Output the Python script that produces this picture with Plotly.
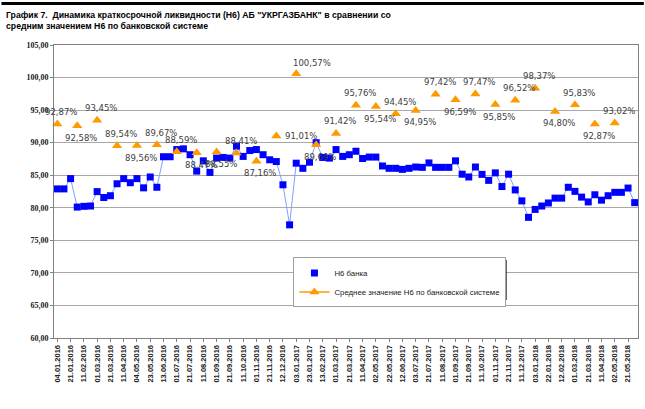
import plotly.graph_objects as go

dates = [
    "04.01.2016", "11.01.2016", "21.01.2016", "01.02.2016", "11.02.2016", "22.02.2016",
    "01.03.2016", "11.03.2016", "21.03.2016", "01.04.2016", "11.04.2016", "21.04.2016",
    "04.05.2016", "11.05.2016", "23.05.2016", "01.06.2016", "13.06.2016", "21.06.2016",
    "01.07.2016", "11.07.2016", "21.07.2016", "01.08.2016", "11.08.2016", "22.08.2016",
    "01.09.2016", "12.09.2016", "21.09.2016", "03.10.2016", "11.10.2016", "21.10.2016",
    "01.11.2016", "11.11.2016", "21.11.2016", "01.12.2016", "12.12.2016", "21.12.2016",
    "03.01.2017", "11.01.2017", "23.01.2017", "01.02.2017", "13.02.2017", "21.02.2017",
    "01.03.2017", "13.03.2017", "21.03.2017", "03.04.2017", "11.04.2017", "21.04.2017",
    "02.05.2017", "11.05.2017", "22.05.2017", "01.06.2017", "12.06.2017", "21.06.2017",
    "03.07.2017", "11.07.2017", "21.07.2017", "01.08.2017", "11.08.2017", "21.08.2017",
    "01.09.2017", "11.09.2017", "21.09.2017", "02.10.2017", "11.10.2017", "23.10.2017",
    "01.11.2017", "13.11.2017", "21.11.2017", "01.12.2017", "11.12.2017", "21.12.2017",
    "03.01.2018", "11.01.2018", "22.01.2018", "01.02.2018", "12.02.2018", "21.02.2018",
    "01.03.2018", "12.03.2018", "21.03.2018", "02.04.2018", "11.04.2018", "23.04.2018",
    "02.05.2018", "11.05.2018", "21.05.2018", "01.06.2018",
]

bank_n6 = [
    82.90, 82.90, 84.48, 80.11, 80.22, 80.27, 82.48, 81.58, 81.85, 83.69,
    84.48, 83.85, 84.48, 83.06, 84.73, 83.15, 87.84, 87.84, 88.94, 89.05,
    88.15, 85.63, 87.21, 85.43, 87.63, 87.73, 87.63, 89.46, 87.89, 88.79,
    88.94, 88.15, 87.37, 87.10, 83.53, 77.38, 86.85, 86.06, 87.00, 90.00,
    87.73, 87.63, 88.94, 87.89, 88.15, 88.68, 87.57, 87.79, 87.79, 86.42,
    86.06, 86.06, 85.90, 86.06, 86.26, 86.21, 86.89, 86.21, 86.21, 86.21,
    87.21, 85.16, 84.73, 86.26, 85.13, 84.21, 85.36, 83.26, 85.16, 82.74,
    81.06, 78.53, 79.75, 80.27, 80.74, 81.48, 81.48, 83.15, 82.52, 81.64,
    80.90, 82.00, 81.17, 81.85, 82.37, 82.37, 83.03, 80.79,
]

# monthly banking-system average, one value per month (first date of each month)
system_n6_monthly = [
    92.87, 92.58, 93.45, 89.54, 89.56, 89.67, 88.59, 88.47, 88.55, 88.41,
    87.16, 91.01, 100.57, 89.69, 91.42, 95.76, 95.54, 94.45, 94.95, 97.42,
    96.59, 97.47, 95.85, 96.52, 98.37, 94.80, 95.83, 92.87, 93.02,
]

y_ticks = [60, 65, 70, 75, 80, 85, 90, 95, 100, 105]

# label placement for the monthly data labels (style only)
label_side = [
    1, -1, 1, 1, -1, 1, 1, -1, -1, 1,
    -1, 0, 1, -1, 1, 1, -1, 1, -1, 1,
    -1, 1, -1, 1, 1, -1, 1, -1, 1,
]

system_n6 = [None] * len(dates)
for i, v in enumerate(system_n6_monthly):
    system_n6[3 * i] = v

fig = go.Figure()
fig.add_trace(go.Scatter(
    x=dates, y=bank_n6, mode="lines", line=dict(color="#7fa0ff", width=1),
    showlegend=False, hoverinfo="skip",
))
fig.add_trace(go.Scatter(
    x=dates, y=bank_n6, mode="markers", name="Н6 банка",
    marker=dict(symbol="square", size=7, color="#0000ff"),
))
fig.add_trace(go.Scatter(
    x=dates, y=system_n6, mode="lines+markers", name="Среднее значение Н6 по банковской системе",
    line=dict(color="#ff9900", width=1.5), connectgaps=False, cliponaxis=False,
    marker=dict(symbol="triangle-up", size=9, color="#ff9900"),
))

annotations = []
for i, v in enumerate(system_n6_monthly):
    side = label_side[i]
    if side == 0:
        xs, ys = 25, 0
    elif v > 100:
        xs, ys = 16, 11
    else:
        xs, ys = 4, 12 * side
    annotations.append(dict(
        x=dates[3 * i], y=v, xref="x", yref="y", showarrow=False,
        text=f"{v:.2f}".replace(".", ",") + "%",
        xshift=xs, yshift=ys,
        font=dict(family="DejaVu Sans", size=8.5, color="#404040"),
    ))

annotations.append(dict(
    x=-0.085, y=1.125, xref="paper", yref="paper", xanchor="left", yanchor="top",
    align="left", showarrow=False,
    text="График 7.  Динамика краткосрочной ликвидности (Н6) АБ \"УКРГАЗБАНК\" в сравнении со<br>средним значением Н6 по банковской системе",
    font=dict(family="Liberation Sans", size=8.7, color="#000000", weight="bold"),
))

fig.update_layout(
    width=645, height=409,
    margin=dict(l=54, r=7, t=45, b=71, autoexpand=False),
    paper_bgcolor="white", plot_bgcolor="white",
    separators=",.",
    showlegend=True,
    legend=dict(
        x=0.41, y=0.275, xanchor="left", yanchor="top",
        bgcolor="white", bordercolor="#a0a0a0", borderwidth=1,
        font=dict(family="Liberation Sans", size=7.8, color="#202020"),
        itemwidth=30,
    ),
    annotations=annotations,
    shapes=[
        dict(type="line", xref="paper", yref="paper", x0=-0.09, x1=1.01, y0=1.142, y1=1.142,
             line=dict(color="black", width=3), layer="above"),
        dict(type="rect", xref="paper", yref="paper", x0=0.416, x1=0.775, y0=0.1297, y1=0.2662,
             fillcolor="black", line=dict(width=0), layer="above"),
    ],
)

fig.update_xaxes(
    type="category", range=[-0.5, len(dates) - 0.5], automargin=False,
    tickvals=dates[::2], ticktext=dates[::2], tickangle=-90,
    tickfont=dict(family="Liberation Sans", size=7.5, color="#202020", weight="bold"),
    showgrid=False, showline=True, linecolor="#808080", linewidth=1,
    ticks="outside", ticklen=3, tickcolor="#808080", mirror=True,
)
fig.update_yaxes(
    range=[60, 105], tickvals=y_ticks, tickformat=".2f", ticksuffix="%", automargin=False,
    tickfont=dict(family="Liberation Serif", size=8, color="#202020", weight="bold"),
    showgrid=True, gridcolor="#a8a8a8", gridwidth=1,
    showline=True, linecolor="#808080", linewidth=1, mirror=True,
    ticks="outside", ticklen=3, tickcolor="#808080", zeroline=False,
)

fig.write_html("out.html", config={"displayModeBar": False},
               post_script="document.body.style.margin='0px';")
